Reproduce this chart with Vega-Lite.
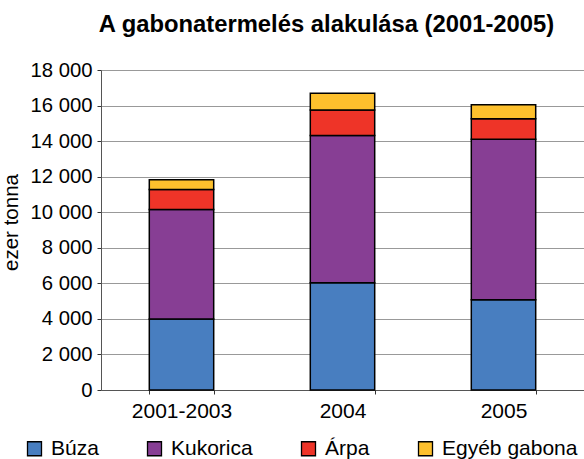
{
  "$schema": "https://vega.github.io/schema/vega-lite/v6.json",
  "autosize": "none",
  "width": 483,
  "height": 320,
  "padding": {"left": 101, "top": 70, "right": 0, "bottom": 69},
  "background": "white",
  "title": {
    "text": "A gabonatermelés alakulása (2001-2005)",
    "font": "Liberation Sans",
    "fontSize": 23.8,
    "fontWeight": "bold",
    "color": "black",
    "anchor": "middle",
    "frame": "group",
    "dx": -16,
    "offset": 23
  },
  "data": {
    "values": [
      {"ev": "2001-2003", "gabona": "Búza", "sorszam": 1, "ertek": 4000},
      {"ev": "2001-2003", "gabona": "Kukorica", "sorszam": 2, "ertek": 6150},
      {"ev": "2001-2003", "gabona": "Árpa", "sorszam": 3, "ertek": 1130},
      {"ev": "2001-2003", "gabona": "Egyéb gabona", "sorszam": 4, "ertek": 540},
      {"ev": "2004", "gabona": "Búza", "sorszam": 1, "ertek": 6030},
      {"ev": "2004", "gabona": "Kukorica", "sorszam": 2, "ertek": 8290},
      {"ev": "2004", "gabona": "Árpa", "sorszam": 3, "ertek": 1430},
      {"ev": "2004", "gabona": "Egyéb gabona", "sorszam": 4, "ertek": 940},
      {"ev": "2005", "gabona": "Búza", "sorszam": 1, "ertek": 5080},
      {"ev": "2005", "gabona": "Kukorica", "sorszam": 2, "ertek": 9020},
      {"ev": "2005", "gabona": "Árpa", "sorszam": 3, "ertek": 1160},
      {"ev": "2005", "gabona": "Egyéb gabona", "sorszam": 4, "ertek": 790}
    ]
  },
  "mark": {"type": "bar", "stroke": "black", "strokeWidth": 1.5},
  "encoding": {
    "x": {
      "field": "ev",
      "type": "nominal",
      "sort": null,
      "scale": {"paddingInner": 0.6, "paddingOuter": 0.3},
      "axis": {
        "title": null,
        "labelAngle": 0,
        "labelFont": "Liberation Sans",
        "labelFontSize": 21,
        "labelColor": "black",
        "labelPadding": 6,
        "tickBand": "extent",
        "tickSize": 4,
        "tickColor": "#333",
        "domainColor": "#555",
        "grid": false
      }
    },
    "y": {
      "field": "ertek",
      "type": "quantitative",
      "stack": "zero",
      "scale": {"domain": [0, 18000], "nice": false},
      "axis": {
        "title": "ezer tonna",
        "titleFont": "Liberation Sans",
        "titleFontSize": 20.5,
        "titleFontWeight": "normal",
        "titleColor": "black",
        "titlePadding": 8,
        "titleY": 152,
        "values": [0, 2000, 4000, 6000, 8000, 10000, 12000, 14000, 16000, 18000],
        "labelExpr": "replace(format(datum.value, ','), ',', ' ')",
        "labelFont": "Liberation Sans",
        "labelFontSize": 20.3,
        "labelColor": "black",
        "labelPadding": 5,
        "tickSize": 4,
        "tickColor": "#333",
        "domainColor": "#555",
        "gridColor": "#999",
        "gridWidth": 1
      }
    },
    "color": {
      "field": "gabona",
      "type": "nominal",
      "sort": ["Búza", "Kukorica", "Árpa", "Egyéb gabona"],
      "scale": {
        "domain": ["Búza", "Kukorica", "Árpa", "Egyéb gabona"],
        "range": ["#487EC0", "#873E94", "#EE3428", "#FDC02D"]
      },
      "legend": {
        "title": null,
        "orient": "none",
        "direction": "horizontal",
        "columns": 4,
        "legendX": -77,
        "legendY": 368,
        "symbolType": "square",
        "symbolSize": 196,
        "symbolStrokeColor": "black",
        "symbolStrokeWidth": 1.3,
        "symbolOpacity": 1,
        "labelFont": "Liberation Sans",
        "labelFontSize": 21,
        "labelColor": "black",
        "labelOffset": 6,
        "columnPadding": 45
      }
    },
    "order": {"field": "sorszam", "type": "quantitative", "sort": "ascending"}
  },
  "config": {"view": {"stroke": null}}
}
